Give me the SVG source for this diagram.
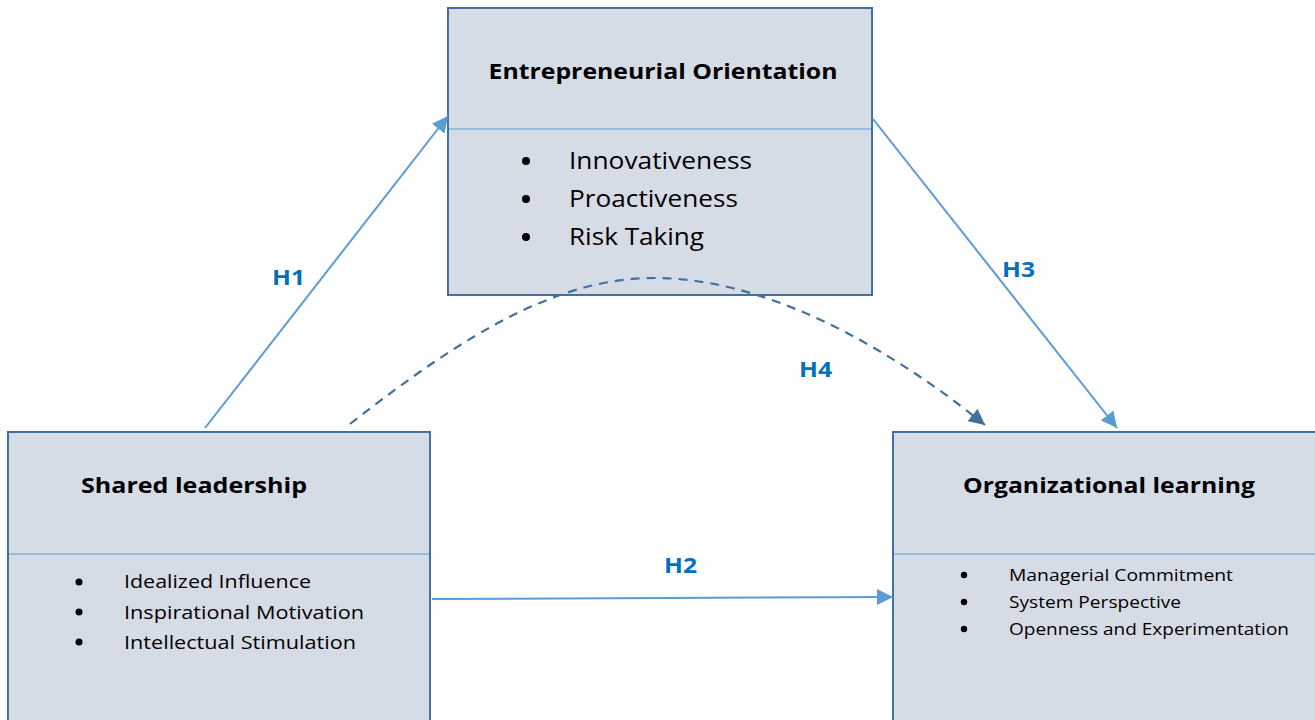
<svg xmlns="http://www.w3.org/2000/svg" width="1315" height="720" viewBox="0 0 1315 720">
<defs>
<style>
.box{fill:#D6DCE5;stroke:#41719C;stroke-width:2}
.div{stroke:#5B9BD5;stroke-width:1.2}
.title{font-family:"Open Sans","Liberation Sans",sans-serif;font-weight:bold;fill:#000}
.item{font-family:"Open Sans","Liberation Sans",sans-serif;fill:#000}
.lbl{font-family:"Open Sans","Liberation Sans",sans-serif;font-weight:bold;font-size:22px;fill:#0070C0}
.conn{stroke:#5B9BD5;stroke-width:2;fill:none}
.dash{stroke:#41719C;stroke-width:2.2;fill:none;stroke-dasharray:9 7}
</style>
<marker id="ahl" viewBox="0 0 10 10" refX="10" refY="5" markerWidth="16" markerHeight="16" orient="auto" markerUnits="userSpaceOnUse">
<path d="M0,0 L10,5 L0,10 z" fill="#5B9BD5"/>
</marker>
<marker id="ahd" viewBox="0 0 10 10" refX="10" refY="5" markerWidth="16" markerHeight="16" orient="auto" markerUnits="userSpaceOnUse">
<path d="M0,0 L10,5 L0,10 z" fill="#41719C"/>
</marker>
</defs>
<rect width="1315" height="720" fill="#fff"/>

<g id="node-eo">
<rect class="box" x="448" y="8" width="424" height="287"/>
<line class="div" x1="449" y1="129" x2="871" y2="129"/>
<text class="title" x="663" y="79" font-size="22" text-anchor="middle" textLength="349" lengthAdjust="spacingAndGlyphs">Entrepreneurial Orientation</text>
<circle cx="526" cy="161" r="4"/><circle cx="526" cy="199" r="4"/><circle cx="526" cy="237" r="4"/>
<text class="item" x="569" y="169" font-size="23" textLength="183" lengthAdjust="spacingAndGlyphs">Innovativeness</text>
<text class="item" x="569" y="207" font-size="23" textLength="169" lengthAdjust="spacingAndGlyphs">Proactiveness</text>
<text class="item" x="569" y="245" font-size="23" textLength="135" lengthAdjust="spacingAndGlyphs">Risk Taking</text>
</g>

<g id="node-sl">
<rect class="box" x="8" y="432" width="422" height="300"/>
<line class="div" x1="9" y1="554" x2="429" y2="554"/>
<text class="title" x="81" y="493" font-size="22" textLength="226" lengthAdjust="spacingAndGlyphs">Shared leadership</text>
<circle cx="79" cy="582" r="3.5"/><circle cx="79" cy="612" r="3.5"/><circle cx="79" cy="642" r="3.5"/>
<text class="item" x="124" y="588" font-size="19" textLength="187" lengthAdjust="spacingAndGlyphs">Idealized Influence</text>
<text class="item" x="124" y="619" font-size="19" textLength="240" lengthAdjust="spacingAndGlyphs">Inspirational Motivation</text>
<text class="item" x="124" y="649" font-size="19" textLength="232" lengthAdjust="spacingAndGlyphs">Intellectual Stimulation</text>
</g>

<g id="node-ol">
<rect class="box" x="893" y="432" width="430" height="300"/>
<line class="div" x1="894" y1="554" x2="1315" y2="554"/>
<text class="title" x="963" y="493" font-size="22" textLength="292" lengthAdjust="spacingAndGlyphs">Organizational learning</text>
<circle cx="964" cy="575" r="3.2"/><circle cx="964" cy="602" r="3.2"/><circle cx="964" cy="629" r="3.2"/>
<text class="item" x="1009" y="581" font-size="17" textLength="224" lengthAdjust="spacingAndGlyphs">Managerial Commitment</text>
<text class="item" x="1009" y="608" font-size="17" textLength="172" lengthAdjust="spacingAndGlyphs">System Perspective</text>
<text class="item" x="1009" y="635" font-size="17" textLength="280" lengthAdjust="spacingAndGlyphs">Openness and Experimentation</text>
</g>

<g id="connectors">
<line class="conn" x1="205" y1="428" x2="448" y2="116" marker-end="url(#ahl)"/>
<line class="conn" x1="873" y1="119" x2="1117" y2="428" marker-end="url(#ahl)"/>
<line class="conn" x1="432" y1="599" x2="893" y2="597" marker-end="url(#ahl)"/>
<path class="dash" d="M350,424 C470,330 560,278 655,278 C760,278 880,340 985,425" marker-end="url(#ahd)"/>
<text class="lbl" x="272" y="285" textLength="33" lengthAdjust="spacingAndGlyphs">H1</text>
<text class="lbl" x="664" y="573" textLength="33" lengthAdjust="spacingAndGlyphs">H2</text>
<text class="lbl" x="1002" y="277" textLength="33" lengthAdjust="spacingAndGlyphs">H3</text>
<text class="lbl" x="799" y="377" textLength="33" lengthAdjust="spacingAndGlyphs">H4</text>
</g>
</svg>
